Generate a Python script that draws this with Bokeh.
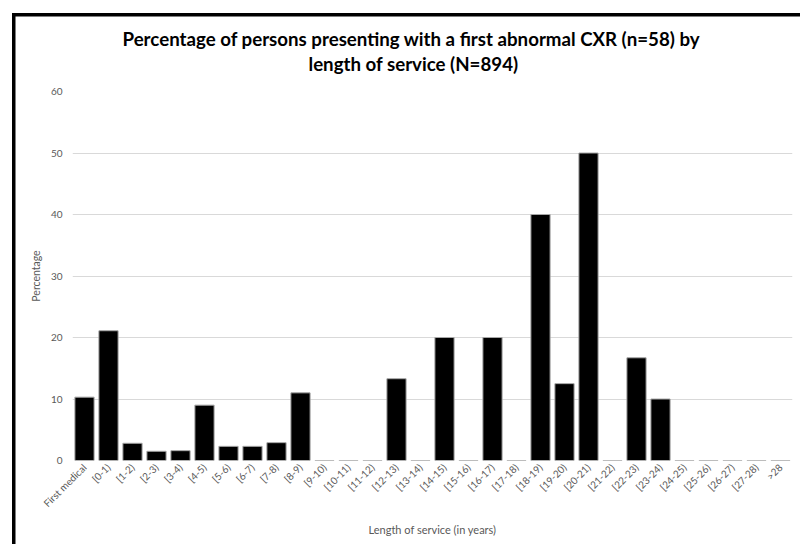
import math
from bokeh.plotting import figure
from bokeh.models import Title
from bokeh.embed import file_html
from bokeh.resources import INLINE

categories = ["First medical", "[0-1)", "[1-2)", "[2-3)", "[3-4)", "[4-5)", "[5-6)", "[6-7)",
              "[7-8)", "[8-9)", "[9-10)", "[10-11)", "[11-12)", "[12-13)", "[13-14)", "[14-15)",
              "[15-16)", "[16-17)", "[17-18)", "[18-19)", "[19-20)", "[20-21)", "[21-22)",
              "[22-23)", "[23-24)", "[24-25)", "[25-26)", "[26-27)", "[27-28)", ">28"]
percentages = [10.3, 21.1, 2.8, 1.5, 1.6, 9.0, 2.3, 2.3, 2.9, 11.0, 0, 0, 0, 13.3, 0, 20.0,
               0, 20.0, 0, 40.0, 12.5, 50.0, 0, 16.7, 10.0, 0, 0, 0, 0, 0]
y_ticks = [0, 10, 20, 30, 40, 50, 60]
title_line1 = "Percentage of persons presenting with a first abnormal CXR (n=58) by"
title_line2 = "length of service (N=894)"

FONT = "Lato"
GREY = "#595959"

p = figure(x_range=categories, y_range=(0, 60), width=800, height=544,
           output_backend="svg", toolbar_location=None,
           min_border_left=72, min_border_right=8, min_border_top=91, min_border_bottom=84)

# title: first line is the outer (figure) title, second line sits nearest the plot
p.title.text = title_line1
p.title.align = "left"
p.title.offset = 50
p.title.text_font = FONT
p.title.text_font_size = "18.7px"
p.title.text_font_style = "bold"
p.title.text_color = "#000000"
p.title.standoff = -33

t2 = Title(text=title_line2, align="left", offset=236, text_font=FONT,
           text_font_size="18.7px", text_font_style="bold", text_color="#000000",
           standoff=34)
p.add_layout(t2, "above")

p.vbar(x=categories, top=percentages, width=0.8, fill_color="#000000",
       line_color="#a6a6a6", line_width=1)

p.outline_line_color = None
p.xgrid.grid_line_color = None
p.ygrid.grid_line_color = "#d9d9d9"
p.ygrid.grid_line_width = 1
p.yaxis.ticker = y_ticks

for ax in (p.xaxis[0], p.yaxis[0]):
    ax.axis_line_color = None
    ax.major_tick_line_color = None
    ax.minor_tick_line_color = None
    ax.major_tick_out = 0
    ax.minor_tick_out = 0
    ax.major_label_text_font = FONT
    ax.major_label_text_font_size = "10px"
    ax.major_label_text_color = GREY
    ax.axis_label_text_font = FONT
    ax.axis_label_text_font_style = "normal"
    ax.axis_label_text_color = GREY

p.yaxis.axis_label = "Percentage"
p.yaxis.axis_label_text_font_size = "10.5px"
p.yaxis.major_label_standoff = 10
p.yaxis.axis_label_standoff = 6

p.xaxis.axis_label = "Length of service (in years)"
p.xaxis.axis_label_text_font_size = "11px"
p.xaxis.major_label_orientation = math.pi / 4
p.xaxis.major_label_standoff = 5
p.xaxis.axis_label_standoff = 7

# chart-area frame (only its left and top edges are visible in the reference):
# painted as the figure element's background, seen through a transparent canvas
p.border_fill_color = None
p.background_fill_color = None
p.styles = {
    "background-color": "#ffffff",
    "background-image": "linear-gradient(#000, #000), linear-gradient(#000, #000)",
    "background-size": "788px 3.5px, 3.5px 531px",
    "background-position": "12px 13px, 12px 13px",
    "background-repeat": "no-repeat",
}

open("out.html", "w").write(file_html(p, INLINE))
